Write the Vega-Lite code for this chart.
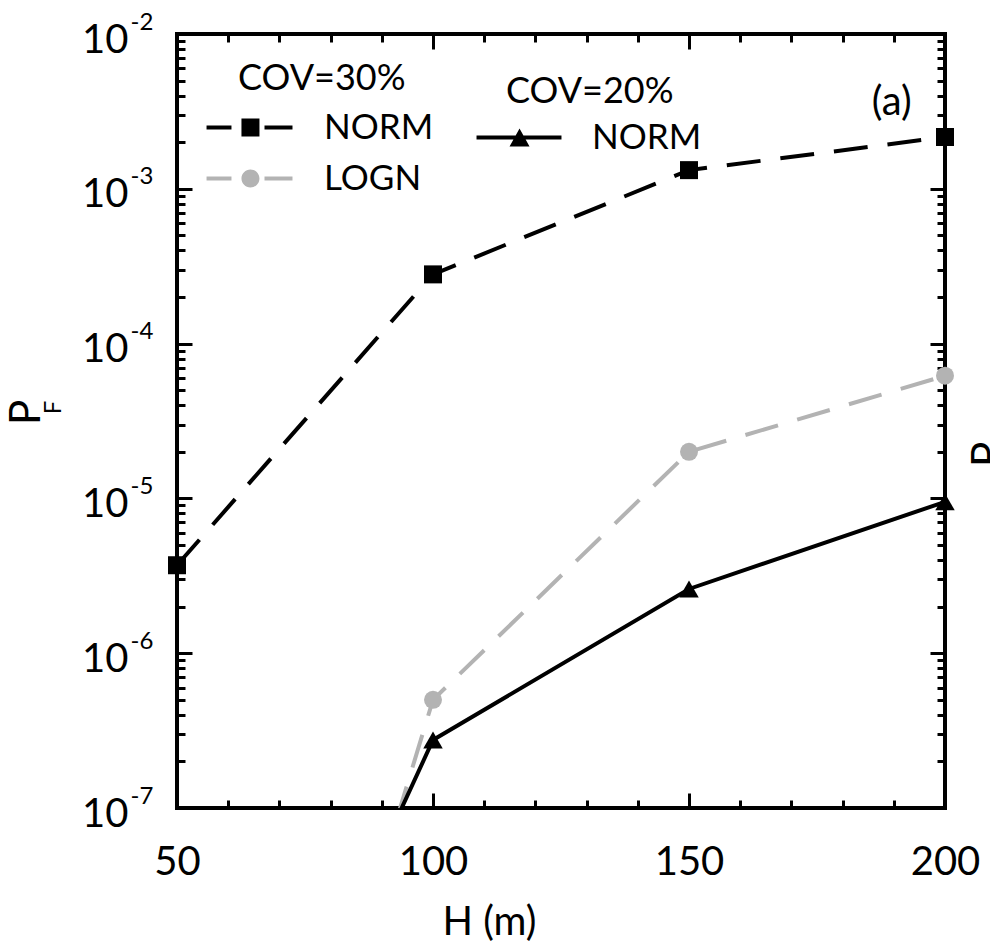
{
  "$schema": "https://vega.github.io/schema/vega-lite/v6.json",
  "width": 768,
  "height": 774,
  "autosize": {"type": "none"},
  "padding": {"left": 177, "top": 34, "right": 45, "bottom": 139},
  "background": "white",
  "data": {
    "values": [
      {"H": 50, "PF": 3.7e-6, "series": "NORM30"},
      {"H": 100, "PF": 2.8e-4, "series": "NORM30"},
      {"H": 150, "PF": 1.32e-3, "series": "NORM30"},
      {"H": 200, "PF": 2.16e-3, "series": "NORM30"},
      {"H": 50, "PF": 1.8e-12, "series": "LOGN30"},
      {"H": 100, "PF": 5.0e-7, "series": "LOGN30"},
      {"H": 150, "PF": 2.0e-5, "series": "LOGN30"},
      {"H": 200, "PF": 6.2e-5, "series": "LOGN30"},
      {"H": 50, "PF": 7e-11, "series": "NORM20"},
      {"H": 100, "PF": 2.75e-7, "series": "NORM20"},
      {"H": 150, "PF": 2.6e-6, "series": "NORM20"},
      {"H": 200, "PF": 9.5e-6, "series": "NORM20"}
    ]
  },
  "layer": [
    {
      "transform": [{"filter": "datum.series == 'NORM30'"}],
      "mark": {"type": "line", "color": "black", "strokeWidth": 4, "strokeDash": [34, 20], "clip": true},
      "encoding": {
        "x": {"field": "H", "type": "quantitative", "scale": {"domain": [50, 200], "nice": false, "zero": false},
          "axis": {"orient": "bottom", "values": [50, 100, 150, 200], "ticks": false, "tickSize": 0, "labelFontSize": 40, "labelPadding": 34, "labelBaseline": "top",
            "title": "H (m)", "titleFontSize": 40, "titleX": 312, "titleY": 126, "titleBaseline": "alphabetic", "titleAlign": "center"}},
        "y": {"field": "PF", "type": "quantitative", "scale": {"type": "log", "domain": [1e-7, 1e-2], "nice": false},
          "axis": {"orient": "left", "values": [1e-7, 1e-6, 1e-5, 1e-4, 1e-3, 1e-2], "ticks": false, "tickSize": 0, "labelExpr": "'10'", "labelFontSize": 40, "labelAlign": "right", "labelBaseline": "middle", "labelPadding": 49, "labelOffset": 6,
            "title": "P", "titleFontSize": 42, "titleAngle": -90, "titleX": -138, "titleY": 378, "titleAlign": "center", "titleBaseline": "alphabetic"}}
      }
    },
    {
      "transform": [{"filter": "datum.series == 'LOGN30'"}],
      "mark": {"type": "line", "color": "#b3b3b3", "strokeWidth": 4, "strokeDash": [34, 20], "clip": true},
      "encoding": {
        "x": {"field": "H", "type": "quantitative", "scale": {"domain": [50, 200], "nice": false, "zero": false},
          "axis": {"orient": "bottom", "values": [50, 100, 150, 200], "tickSize": -15, "labels": false, "title": null}},
        "y": {"field": "PF", "type": "quantitative", "scale": {"type": "log", "domain": [1e-7, 1e-2], "nice": false},
          "axis": {"orient": "left", "values": [1e-7, 1e-6, 1e-5, 1e-4, 1e-3, 1e-2], "tickSize": -15, "labels": false, "title": null}}
      }
    },
    {
      "transform": [{"filter": "datum.series == 'NORM20'"}],
      "mark": {"type": "line", "color": "black", "strokeWidth": 4, "clip": true},
      "encoding": {
        "x": {"field": "H", "type": "quantitative", "scale": {"domain": [50, 200], "nice": false, "zero": false},
          "axis": {"orient": "bottom", "values": [60, 70, 80, 90, 110, 120, 130, 140, 160, 170, 180, 190], "tickSize": -8, "labels": false, "title": null}},
        "y": {"field": "PF", "type": "quantitative", "scale": {"type": "log", "domain": [1e-7, 1e-2], "nice": false},
          "axis": {"orient": "left", "values": [2e-7, 3e-7, 4e-7, 5e-7, 6e-7, 7e-7, 8e-7, 9e-7, 2e-6, 3e-6, 4e-6, 5e-6, 6e-6, 7e-6, 8e-6, 9e-6, 2e-5, 3e-5, 4e-5, 5e-5, 6e-5, 7e-5, 8e-5, 9e-5, 2e-4, 3e-4, 4e-4, 5e-4, 6e-4, 7e-4, 8e-4, 9e-4, 2e-3, 3e-3, 4e-3, 5e-3, 6e-3, 7e-3, 8e-3, 9e-3], "tickSize": -8, "labels": false, "title": null}}
      }
    },
    {
      "transform": [{"filter": "datum.series == 'NORM30'"}],
      "mark": {"type": "point", "shape": "square", "filled": true, "color": "black", "size": 324, "opacity": 1},
      "encoding": {
        "x": {"field": "H", "type": "quantitative", "scale": {"domain": [50, 200], "nice": false, "zero": false},
          "axis": {"orient": "top", "values": [50, 100, 150, 200], "tickSize": -15, "labels": false, "title": null}},
        "y": {"field": "PF", "type": "quantitative", "scale": {"type": "log", "domain": [1e-7, 1e-2], "nice": false},
          "axis": {"orient": "right", "values": [1e-7, 1e-6, 1e-5, 1e-4, 1e-3, 1e-2], "tickSize": -15, "labels": false,
            "title": "P", "titleFontSize": 42, "titleAngle": -90, "titleX": 56, "titleY": 420, "titleAlign": "center", "titleBaseline": "alphabetic"}}
      }
    },
    {
      "transform": [{"filter": "datum.series == 'LOGN30' && datum.PF >= 1e-7"}],
      "mark": {"type": "point", "shape": "circle", "filled": true, "color": "#b3b3b3", "size": 324, "opacity": 1},
      "encoding": {
        "x": {"field": "H", "type": "quantitative", "scale": {"domain": [50, 200], "nice": false, "zero": false},
          "axis": {"orient": "top", "values": [60, 70, 80, 90, 110, 120, 130, 140, 160, 170, 180, 190], "tickSize": -8, "labels": false, "title": null}},
        "y": {"field": "PF", "type": "quantitative", "scale": {"type": "log", "domain": [1e-7, 1e-2], "nice": false},
          "axis": {"orient": "right", "values": [2e-7, 3e-7, 4e-7, 5e-7, 6e-7, 7e-7, 8e-7, 9e-7, 2e-6, 3e-6, 4e-6, 5e-6, 6e-6, 7e-6, 8e-6, 9e-6, 2e-5, 3e-5, 4e-5, 5e-5, 6e-5, 7e-5, 8e-5, 9e-5, 2e-4, 3e-4, 4e-4, 5e-4, 6e-4, 7e-4, 8e-4, 9e-4, 2e-3, 3e-3, 4e-3, 5e-3, 6e-3, 7e-3, 8e-3, 9e-3], "tickSize": -8, "labels": false, "title": null}}
      }
    },
    {
      "transform": [{"filter": "datum.series == 'NORM20' && datum.PF >= 1e-7"}],
      "mark": {"type": "point", "shape": "triangle-up", "filled": true, "color": "black", "size": 380, "opacity": 1},
      "encoding": {
        "x": {"field": "H", "type": "quantitative", "scale": {"domain": [50, 200], "nice": false, "zero": false}, "axis": null},
        "y": {"field": "PF", "type": "quantitative", "scale": {"type": "log", "domain": [1e-7, 1e-2], "nice": false},
          "axis": {"orient": "left", "values": [1e-7, 1e-6, 1e-5, 1e-4, 1e-3, 1e-2], "ticks": false, "tickSize": 0, "labelExpr": "'-' + (-round(log(datum.value)/LN10))", "labelFontSize": 24, "labelAlign": "left", "labelBaseline": "middle", "labelPadding": 47, "labelOffset": -12,
            "title": "F", "titleFontSize": 24, "titleAngle": -90, "titleX": -117, "titleY": 373, "titleAlign": "center", "titleBaseline": "alphabetic"}}
      }
    },
    {
      "transform": [{"filter": "datum.series == 'NORM30' || datum.series == 'LOGN30'"}],
      "mark": {"type": "point", "filled": true, "opacity": 0},
      "encoding": {
        "x": {"field": "H", "type": "quantitative", "axis": null},
        "y": {"field": "PF", "type": "quantitative", "axis": null},
        "color": {"field": "series", "type": "nominal", "scale": {"domain": ["NORM30", "LOGN30"], "range": ["black", "#b3b3b3"]},
          "legend": {"title": "COV=30%", "orient": "none", "legendX": 61, "legendY": 28, "padding": 0, "symbolSize": 324, "symbolStrokeWidth": 0, "symbolOpacity": 1, "labelFontSize": 35, "titleFontSize": 36, "labelFont": "Lato", "titleFont": "Lato", "titleFontWeight": "normal", "labelOffset": 51, "rowPadding": 15, "titlePadding": 12, "labelColor": "black", "titleColor": "black", "labelExpr": "datum.label == 'LOGN30' ? 'LOGN' : 'NORM'"}},
        "shape": {"field": "series", "type": "nominal", "scale": {"domain": ["NORM30", "LOGN30"], "range": ["M-5.44,-0.22H-2.67V0.22H-5.44ZM1,-0.22H4.11V0.22H1ZM-1.56,-1H0.44V1H-1.56Z", "M-5.44,-0.22H-2.67V0.22H-5.44ZM1,-0.22H4.11V0.22H1ZM-1.56,0A1,1 0 1,1 0.44,0A1,1 0 1,1 -1.56,0Z"]},
          "legend": {"title": "COV=30%", "orient": "none", "legendX": 61, "legendY": 28, "padding": 0, "symbolSize": 324, "symbolStrokeWidth": 0, "symbolOpacity": 1, "labelFontSize": 35, "titleFontSize": 36, "labelFont": "Lato", "titleFont": "Lato", "titleFontWeight": "normal", "labelOffset": 51, "rowPadding": 15, "titlePadding": 12, "labelColor": "black", "titleColor": "black", "labelExpr": "datum.label == 'LOGN30' ? 'LOGN' : 'NORM'"}}
      }
    },
    {
      "transform": [{"filter": "datum.series == 'NORM20'"}],
      "mark": {"type": "point", "filled": true, "opacity": 0},
      "encoding": {
        "x": {"field": "H", "type": "quantitative", "axis": null},
        "y": {"field": "PF", "type": "quantitative", "axis": null},
        "color": {"field": "series", "type": "nominal", "scale": {"domain": ["NORM20"], "range": ["black"]},
          "legend": {"title": "COV=20%", "orient": "none", "legendX": 329, "legendY": 41, "padding": 0, "symbolSize": 324, "symbolStrokeWidth": 0, "symbolOpacity": 1, "labelFontSize": 35, "titleFontSize": 36, "labelFont": "Lato", "titleFont": "Lato", "titleFontWeight": "normal", "labelOffset": 51, "rowPadding": 15, "titlePadding": 9, "labelColor": "black", "titleColor": "black", "labelExpr": "'NORM'"}},
        "shape": {"field": "series", "type": "nominal", "scale": {"domain": ["NORM20"], "range": ["M-5.22,-0.22H4.22V0.22H-5.22ZM-1.55,1L-0.44,-1L0.67,1Z"]},
          "legend": {"title": "COV=20%", "orient": "none", "legendX": 329, "legendY": 41, "padding": 0, "symbolSize": 324, "symbolStrokeWidth": 0, "symbolOpacity": 1, "labelFontSize": 35, "titleFontSize": 36, "labelFont": "Lato", "titleFont": "Lato", "titleFontWeight": "normal", "labelOffset": 51, "rowPadding": 15, "titlePadding": 9, "labelColor": "black", "titleColor": "black", "labelExpr": "'NORM'"}}
      }
    },
    {
      "data": {"values": [{"label": "(a)"}]},
      "mark": {"type": "text", "fontSize": 40, "font": "Lato", "color": "black", "align": "center", "baseline": "middle"},
      "encoding": {
        "x": {"datum": 189.6, "type": "quantitative", "axis": null},
        "y": {"datum": 0.00358, "type": "quantitative", "axis": null},
        "text": {"field": "label", "type": "nominal"}
      }
    }
  ],
  "resolve": {
    "axis": {"x": "independent", "y": "independent"},
    "scale": {"color": "independent", "shape": "independent"},
    "legend": {"color": "independent", "shape": "independent"}
  },
  "config": {
    "font": "Lato",
    "view": {"stroke": "black", "strokeWidth": 4},
    "axis": {"grid": false, "domain": false, "tickColor": "black", "tickWidth": 3, "labelColor": "black", "titleColor": "black", "labelFont": "Lato", "titleFont": "Lato", "titleFontWeight": "normal", "labelOverlap": false, "labelFlush": false}
  }
}
